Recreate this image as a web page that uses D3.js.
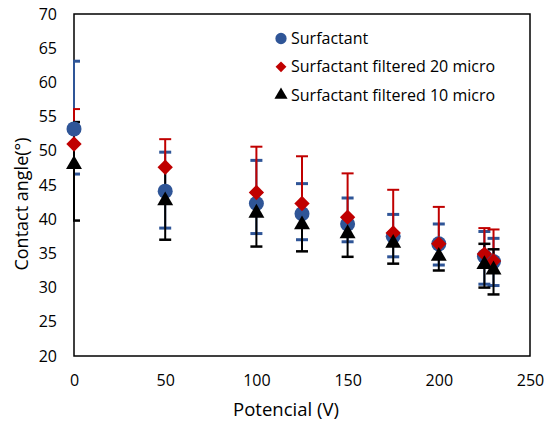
<!DOCTYPE html>
<html>
<head>
<meta charset="utf-8">
<script src="https://cdn.jsdelivr.net/npm/d3@7"></script>
<style>
  body { margin: 0; background: #fff; }
  text { font-family: "Open Sans", "Noto Sans", sans-serif; fill: #000; }
</style>
</head>
<body>
<div id="chart"></div>
<script>
// values
const potential = [0, 50, 100, 125, 150, 175, 200, 225, 230];

const surf   = [53.2, 44.1, 42.3, 40.8, 39.3, 37.5, 36.4, 34.6, 33.8];
const surfHi = [63.1, 49.8, 48.6, 45.2, 43.1, 40.7, 39.3, 38.2, 37.2];
const surfLo = [46.6, 38.7, 37.9, 37.0, 36.7, 34.5, 33.3, 30.5, 30.3];

// red series only shows its upper bars
const f20   = [51.0, 47.6, 43.9, 42.3, 40.3, 38.0, 36.4, 34.9, 33.9];
const f20Hi = [56.1, 51.7, 50.6, 49.2, 46.7, 44.3, 41.8, 38.7, 38.5];
const f20Lo = [51.0, 47.6, 43.9, 42.3, 40.3, 38.0, 36.4, 34.9, 33.9];

// black upper bars end under the red diamonds except at 0, 225 and 230
const f10   = [48.0, 42.7, 40.9, 39.2, 37.9, 36.5, 34.6, 33.4, 32.6];
const f10Hi = [54.2, 47.6, 43.9, 42.3, 40.3, 38.0, 36.4, 36.4, 35.6];
const f10Lo = [39.8, 37.0, 36.0, 35.3, 34.5, 33.5, 32.5, 30.0, 29.0];

const xTicks = [0, 50, 100, 150, 200, 250];
const yTicks = [20, 25, 30, 35, 40, 45, 50, 55, 60, 65, 70];

const seriesNames = ["Surfactant", "Surfactant filtered 20 micro", "Surfactant filtered 10 micro"];

const W = 545, H = 425;
const margin = { top: 14, right: 15, bottom: 69, left: 74 };
const width = W - margin.left - margin.right,
  height = H - margin.top - margin.bottom;

const svg = d3.select("#chart")
  .append("svg")
  .attr("width", W)
  .attr("height", H);

const g = svg.append("g")
  .attr("transform", `translate(${margin.left},${margin.top})`);

const x = d3.scaleLinear().domain([0, 250]).range([0, width]);
const y = d3.scaleLinear().domain([20, 70]).range([height, 0]);

// frame
g.append("rect")
  .attr("width", width)
  .attr("height", height)
  .attr("fill", "none")
  .attr("stroke", "#000")
  .attr("stroke-width", 1.5);

// tick labels (no tick marks in the reference)
g.append("g")
  .attr("transform", `translate(0,${height})`)
  .call(d3.axisBottom(x).tickValues(xTicks).tickSize(0).tickPadding(19))
  .call(a => a.select(".domain").remove())
  .selectAll("text")
  .style("font-size", "16px")
  .style("font-family", "'Open Sans', sans-serif")
  .attr("fill", "#000");

g.append("g")
  .call(d3.axisLeft(y).tickValues(yTicks).tickSize(0).tickPadding(17))
  .call(a => a.select(".domain").remove())
  .selectAll("text")
  .style("font-size", "16px")
  .style("font-family", "'Open Sans', sans-serif")
  .attr("fill", "#000");

// axis titles
svg.append("text")
  .attr("x", 286)
  .attr("y", 416)
  .attr("text-anchor", "middle")
  .style("font-size", "18.5px")
  .text("Potencial (V)");

svg.append("text")
  .attr("transform", "translate(28,204) rotate(-90)")
  .attr("text-anchor", "middle")
  .style("font-size", "18px")
  .text("Contact angle(°)");

// error bars, clipped to the plot area
svg.append("defs").append("clipPath")
  .attr("id", "plotclip")
  .append("rect")
  .attr("x", -1)
  .attr("y", 0)
  .attr("width", width + 1)
  .attr("height", height);

const errLayer = g.append("g").attr("clip-path", "url(#plotclip)");

const series = [
  { vals: surf, hi: surfHi, lo: surfLo, color: "#2F5597", capH: 3 },
  { vals: f20, hi: f20Hi, lo: f20Lo, color: "#C00000", capH: 2 },
  { vals: f10, hi: f10Hi, lo: f10Lo, color: "#000000", capH: 2.5 }
];

series.forEach(s => {
  const eg = errLayer.append("g");
  eg.selectAll("line.v")
    .data(potential)
    .join("line")
    .attr("class", "v")
    .attr("x1", d => x(d))
    .attr("x2", d => x(d))
    .attr("y1", (d, i) => y(s.hi[i]))
    .attr("y2", (d, i) => y(s.lo[i]))
    .attr("stroke", s.color)
    .attr("stroke-width", 2);
  [s.hi, s.lo].forEach(arr => {
    eg.selectAll(null)
      .data(potential.filter((d, i) => arr[i] !== s.vals[i]))
      .join("line")
      .attr("x1", d => x(d) - 6)
      .attr("x2", d => x(d) + 6)
      .attr("y1", d => y(arr[potential.indexOf(d)]))
      .attr("y2", d => y(arr[potential.indexOf(d)]))
      .attr("stroke", s.color)
      .attr("stroke-width", s.capH);
  });
});

// markers
const markerLayer = g.append("g");
markerLayer.selectAll("circle")
  .data(potential)
  .join("circle")
  .attr("cx", d => x(d))
  .attr("cy", (d, i) => y(surf[i]))
  .attr("r", 7.5)
  .attr("fill", "#2F5597");

const diamond = d3.symbol().type(d3.symbolDiamond2).size(150);
markerLayer.selectAll("path.dia")
  .data(potential)
  .join("path")
  .attr("class", "dia")
  .attr("d", diamond)
  .attr("transform", (d, i) => `translate(${x(d)},${y(f20[i])})`)
  .attr("fill", "#C00000");

const tri = d3.symbol().type(d3.symbolTriangle).size(110);
markerLayer.selectAll("path.tri")
  .data(potential)
  .join("path")
  .attr("class", "tri")
  .attr("d", tri)
  .attr("transform", (d, i) => `translate(${x(d)},${y(f10[i])})`)
  .attr("fill", "#000");

// legend
const legend = svg.append("g");
const legY = [38.5, 66.8, 95];
const legSym = [
  d3.symbol().type(d3.symbolCircle).size(100)(),
  d3.symbol().type(d3.symbolDiamond2).size(75)(),
  d3.symbol().type(d3.symbolTriangle).size(75)()
];
const legColor = ["#2F5597", "#C00000", "#000"];
seriesNames.forEach((name, i) => {
  legend.append("path")
    .attr("d", legSym[i])
    .attr("transform", `translate(281,${legY[i]})`)
    .attr("fill", legColor[i]);
  legend.append("text")
    .attr("x", 291)
    .attr("y", legY[i] + 5.5)
    .style("font-size", "16px")
    .text(name);
});
</script>
</body>
</html>
